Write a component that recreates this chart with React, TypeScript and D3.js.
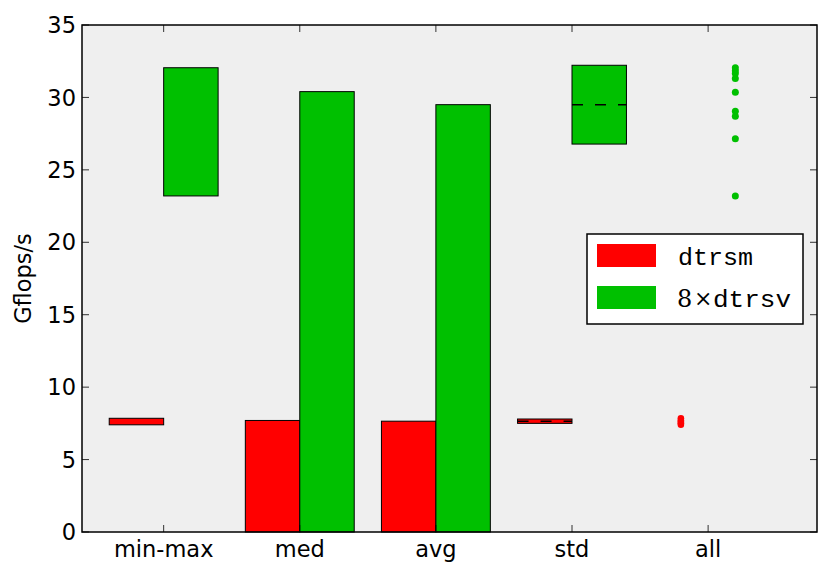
import * as d3 from "d3";

// categories along the x axis
const categories = ["min-max", "med", "avg", "std", "all"];
const yTicks = [0, 5, 10, 15, 20, 25, 30, 35];

// dtrsm (red) and 8 x dtrsv (green), Gflops/s
const dtrsmMinMax = [7.4, 7.85];
const dtrsvMinMax = [23.2, 32.05];
const dtrsmMed = 7.7;
const dtrsvMed = 30.4;
const dtrsmAvg = 7.65;
const dtrsvAvg = 29.5;
const dtrsmStd = [7.65, 0.15]; // mean, std
const dtrsvStd = [29.5, 2.72];
const dtrsmAll = [7.4, 7.5, 7.6, 7.7, 7.85];
const dtrsvAll = [32.05, 31.85, 31.65, 31.3, 30.35, 29.05, 28.7, 27.15, 23.2];

const RED = "#ff0000";
const GREEN = "#00c000";
const W = 831;
const H = 577;
const margin = { top: 25, right: 14, bottom: 45, left: 82 };
const FONT = "'DejaVu Sans', sans-serif";
const MONO = "'Liberation Mono', monospace";
const SERIF = "'DejaVu Serif', serif";

export default function App() {
  const innerW = W - margin.left - margin.right;
  const innerH = H - margin.top - margin.bottom;
  const x = d3.scaleLinear().domain([-0.6, 4.8]).range([0, innerW]);
  const y = d3.scaleLinear().domain([0, 35]).range([innerH, 0]);
  const bw = x(0.4) - x(0);

  const box = (i: number, lo: number, hi: number, color: string, side: number) => (
    <rect
      x={side < 0 ? x(i) - bw : x(i)}
      y={y(hi)}
      width={bw}
      height={y(lo) - y(hi)}
      fill={color}
      stroke="#000"
      strokeWidth={1}
    />
  );

  const dash = (i: number, v: number, side: number) => (
    <line
      x1={side < 0 ? x(i) - bw : x(i)}
      x2={side < 0 ? x(i) : x(i) + bw}
      y1={y(v)}
      y2={y(v)}
      stroke="#000"
      strokeWidth={1.5}
      strokeDasharray="11,12"
    />
  );

  return (
    <div style={{ position: "absolute", left: 0, top: 0 }}>
      <svg width={W} height={H} style={{ display: "block", background: "#fff" }}>
        <g transform={`translate(${margin.left},${margin.top})`}>
          <rect width={innerW} height={innerH} fill="#efefef" />

          {/* min-max */}
          {box(0, dtrsmMinMax[0], dtrsmMinMax[1], RED, -1)}
          {box(0, dtrsvMinMax[0], dtrsvMinMax[1], GREEN, 1)}
          {/* med */}
          {box(1, 0, dtrsmMed, RED, -1)}
          {box(1, 0, dtrsvMed, GREEN, 1)}
          {/* avg */}
          {box(2, 0, dtrsmAvg, RED, -1)}
          {box(2, 0, dtrsvAvg, GREEN, 1)}
          {/* std */}
          {box(3, dtrsmStd[0] - dtrsmStd[1], dtrsmStd[0] + dtrsmStd[1], RED, -1)}
          {dash(3, dtrsmStd[0], -1)}
          {box(3, dtrsvStd[0] - dtrsvStd[1], dtrsvStd[0] + dtrsvStd[1], GREEN, 1)}
          {dash(3, dtrsvStd[0], 1)}
          {/* all */}
          {dtrsmAll.map((v, k) => (
            <circle key={"r" + k} cx={x(4) - bw / 2} cy={y(v)} r={3.3} fill={RED} />
          ))}
          {dtrsvAll.map((v, k) => (
            <circle key={"g" + k} cx={x(4) + bw / 2} cy={y(v)} r={3.5} fill={GREEN} />
          ))}

          {/* ticks, inward on all four sides */}
          {yTicks.map((t) => (
            <g key={"y" + t}>
              <line x1={0} x2={7} y1={y(t)} y2={y(t)} stroke="#000" strokeWidth={0.8} />
              <line x1={innerW - 7} x2={innerW} y1={y(t)} y2={y(t)} stroke="#000" strokeWidth={0.8} />
              <text
                x={-6}
                y={y(t)}
                dy="0.36em"
                textAnchor="end"
                fontFamily={FONT}
                fontSize={22.5}
              >
                {t}
              </text>
            </g>
          ))}
          {categories.map((c, i) => (
            <g key={c}>
              <line x1={x(i)} x2={x(i)} y1={innerH} y2={innerH - 7} stroke="#000" strokeWidth={0.8} />
              <line x1={x(i)} x2={x(i)} y1={0} y2={7} stroke="#000" strokeWidth={0.8} />
              <text x={x(i)} y={innerH + 25} textAnchor="middle" fontFamily={FONT} fontSize={22.5}>
                {c}
              </text>
            </g>
          ))}

          <rect width={innerW} height={innerH} fill="none" stroke="#000" strokeWidth={1.5} />

          <text
            transform={`translate(${31 - margin.left},${innerH / 2}) rotate(-90)`}
            textAnchor="middle"
            fontFamily={FONT}
            fontSize={22.5}
          >
            Gflops/s
          </text>

          {/* legend */}
          <g transform={`translate(${587 - margin.left},${234 - margin.top})`}>
            <rect width={216} height={90} fill="#fff" stroke="#000" strokeWidth={1.5} />
            <rect x={10} y={10} width={59} height={23} fill={RED} />
            <rect x={10} y={52} width={59} height={23} fill={GREEN} />
            <text x={91} y={31} fontFamily={MONO} fontSize={23} textLength={75} lengthAdjust="spacingAndGlyphs">
              dtrsm
            </text>
            <text x={90} y={73} fontFamily={SERIF} fontSize={24}>
              8
            </text>
            <text x={107} y={72} fontFamily={SERIF} fontSize={22}>
              ×
            </text>
            <text x={126} y={73} fontFamily={MONO} fontSize={23} textLength={78} lengthAdjust="spacingAndGlyphs">
              dtrsv
            </text>
          </g>
        </g>
      </svg>
    </div>
  );
}
